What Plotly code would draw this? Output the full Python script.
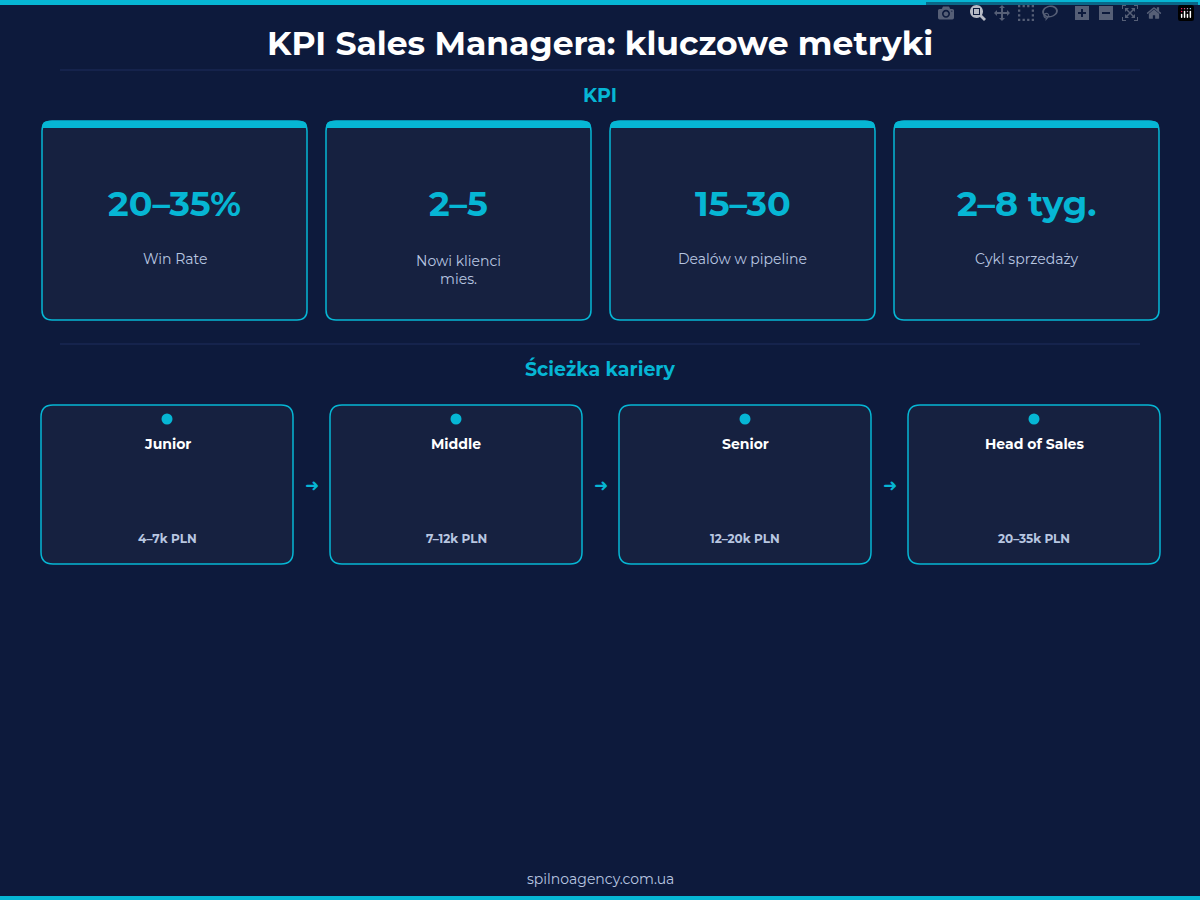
import plotly.graph_objects as go

# Data
kpi_values = ['20–35%', '2–5', '15–30', '2–8 tyg.']
kpi_labels = ['Win Rate', 'Nowi klienci<br>mies.', 'Dealów w pipeline', 'Cykl sprzedaży']
career_levels = ['Junior', 'Middle', 'Senior', 'Head of Sales']
career_salary = ['4–7k PLN', '7–12k PLN', '12–20k PLN', '20–35k PLN']

bg = '#0d1a3c'
card_bg = '#162140'
cyan = '#06b6d4'
font = 'Montserrat, Inter, sans-serif'


def rrect(x0, y0, x1, y1, r):
    return (f'M{x0+r},{y0} L{x1-r},{y0} Q{x1},{y0} {x1},{y0+r} L{x1},{y1-r} '
            f'Q{x1},{y1} {x1-r},{y1} L{x0+r},{y1} Q{x0},{y1} {x0},{y1-r} '
            f'L{x0},{y0+r} Q{x0},{y0} {x0+r},{y0} Z')


fig = go.Figure()
shapes = []
annotations = []

# frame bands and dividers
shapes.append(dict(type='rect', x0=0, x1=1200, y0=0, y1=5, fillcolor=cyan, line_width=0))
shapes.append(dict(type='rect', x0=0, x1=1200, y0=896, y1=900, fillcolor=cyan, line_width=0))
for yy in [70, 344]:
    shapes.append(dict(type='line', x0=60, x1=1140, y0=yy, y1=yy, line=dict(color='#1f2d5c', width=1)))

annotations.append(dict(x=600, y=43, text='<b>KPI Sales Managera: kluczowe metryki</b>',
                        font=dict(size=33, color='white', family=font)))
annotations.append(dict(x=600, y=95, text='<b>KPI</b>', font=dict(size=19, color=cyan, family=font)))
annotations.append(dict(x=600, y=369, text='<b>Ścieżka kariery</b>', font=dict(size=19, color=cyan, family=font)))
annotations.append(dict(x=600, y=879, text='spilnoagency.com.ua', font=dict(size=14, color='#b8c6e0', family=font)))

# KPI cards
kw, kgap = 265, 19
for i, (v, lab) in enumerate(zip(kpi_values, kpi_labels)):
    x0 = 42 + i * (kw + kgap)
    x1 = x0 + kw
    shapes.append(dict(type='path', path=rrect(x0, 121, x1, 320, 10), fillcolor=card_bg,
                       line=dict(color=cyan, width=1.5)))
    shapes.append(dict(type='path', path=(f'M{x0},{128} L{x0},{127} Q{x0},{121} {x0+6},{121} '
                                          f'L{x1-6},{121} Q{x1},{121} {x1},{127} L{x1},{128} Z'),
                       fillcolor=cyan, line_width=0))
    cx = (x0 + x1) / 2
    annotations.append(dict(x=cx, y=203, text=f'<b>{v}</b>', font=dict(size=35, color=cyan, family=font)))
    annotations.append(dict(x=cx, y=259 if '<br>' not in lab else 270, text=lab,
                            font=dict(size=14, color='#b8c6e0', family=font)))

# career cards
cw, cgap = 252, 37
dot_x = []
for i, (lev, sal) in enumerate(zip(career_levels, career_salary)):
    x0 = 41 + i * (cw + cgap)
    x1 = x0 + cw
    cx = (x0 + x1) / 2
    dot_x.append(cx)
    shapes.append(dict(type='path', path=rrect(x0, 405, x1, 564, 12), fillcolor=card_bg,
                       line=dict(color=cyan, width=1.5)))
    annotations.append(dict(x=cx, y=444, text=f'<b>{lev}</b>', font=dict(size=14, color='white', family=font)))
    annotations.append(dict(x=cx, y=538, text=f'<b>{sal}</b>', font=dict(size=12, color='#b8c6e0', family=font)))
    if i < len(career_levels) - 1:
        annotations.append(dict(x=x1 + cgap / 2, y=485, text='<b>➜</b>', font=dict(size=17, color=cyan, family='DejaVu Sans')))

for s in shapes:
    s['layer'] = 'below'

fig.add_trace(go.Scatter(x=dot_x, y=[419] * len(dot_x), mode='markers',
                         marker=dict(size=11, color=cyan), hoverinfo='skip'))

for a in annotations:
    a.update(xref='x', yref='y', showarrow=False)

fig.update_layout(width=1200, height=900, margin=dict(l=0, r=0, t=0, b=0),
                  paper_bgcolor=bg, plot_bgcolor='rgba(0,0,0,0)', showlegend=False,
                  shapes=shapes, annotations=annotations)
fig.update_xaxes(range=[0, 1200], visible=False)
fig.update_yaxes(range=[900, 0], visible=False)

fig.write_html('out.html', post_script="document.body.style.margin='0';")
